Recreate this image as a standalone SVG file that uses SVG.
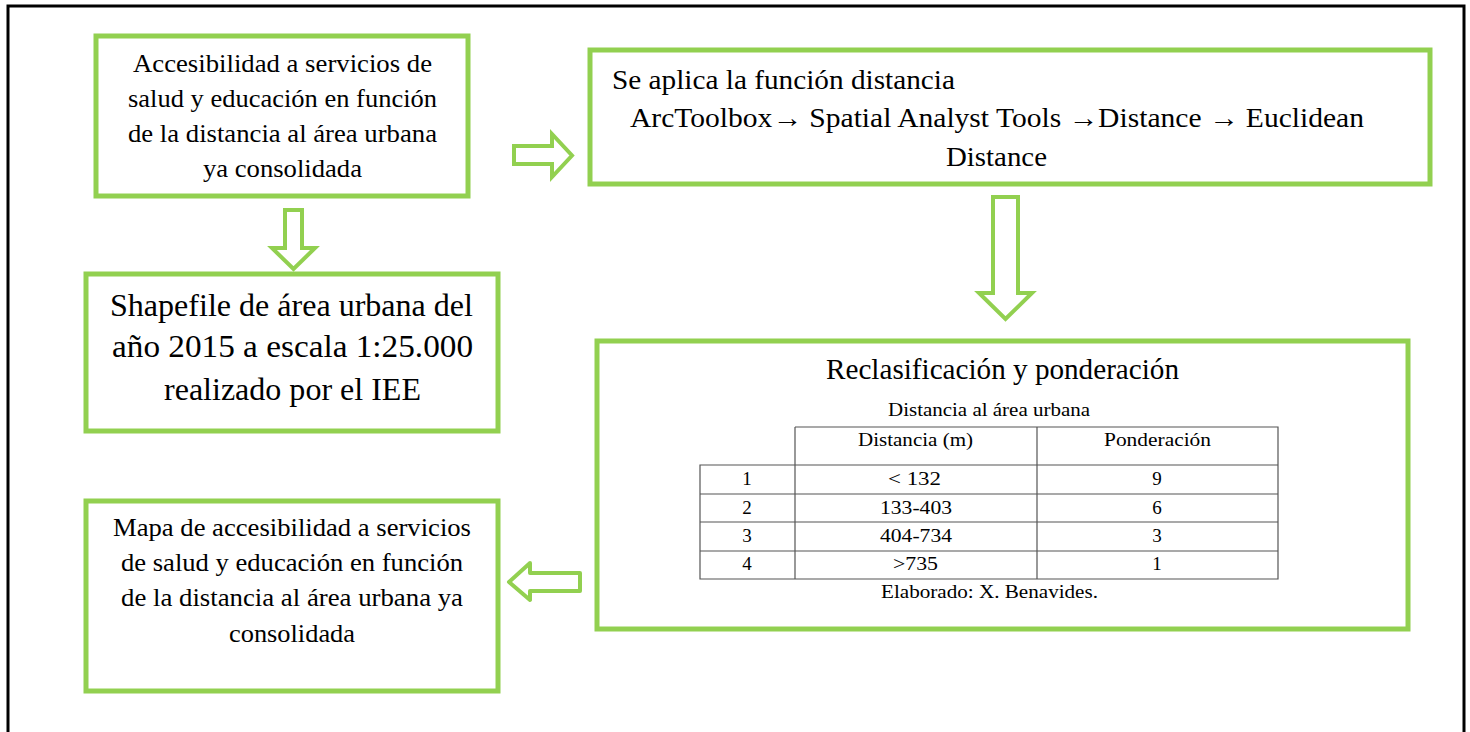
<svg xmlns="http://www.w3.org/2000/svg" width="1470" height="732" viewBox="0 0 1470 732">
<style>
.box{fill:#fff;stroke:#92D050;stroke-width:5}
.arr{fill:#fff;stroke:#92D050;stroke-width:4;stroke-linejoin:miter}
.grid{stroke:#555;stroke-width:1.2;fill:none}
text{font-family:"Liberation Serif","DejaVu Serif",serif;fill:#000}
</style>
<rect width="1470" height="732" fill="#fff"/>
<path d="M8,732 V6 H1464 V732" fill="none" stroke="#000" stroke-width="3"/>
<g id="connectors">
<polygon class="arr" points="514,146 552,146 552,134 572,155.5 552,177 552,164 514,164"/>
<polygon class="arr" points="285,210 302,210 302,248 315,248 293.5,269 272,248 285,248"/>
<polygon class="arr" points="993,197 1018,197 1018,293 1032,293 1005.5,319 979,293 993,293"/>
<polygon class="arr" style="stroke-linejoin:round" points="580,573 530,573 530,563 509,582 530,600 530,591 580,591"/>
</g>
<g id="n1" font-family="Liberation Serif, DejaVu Serif, serif" text-anchor="middle" font-size="26">
<rect class="box" x="96" y="36" width="372" height="160"/>
<text x="282.5" y="72" textLength="299" lengthAdjust="spacingAndGlyphs">Accesibilidad a servicios de</text>
<text x="282.5" y="107" textLength="309" lengthAdjust="spacingAndGlyphs">salud y educación en función</text>
<text x="282.5" y="142" textLength="309" lengthAdjust="spacingAndGlyphs">de la distancia al área urbana</text>
<text x="282.5" y="177" textLength="159" lengthAdjust="spacingAndGlyphs">ya consolidada</text>
</g>
<g id="n2" font-family="Liberation Serif, DejaVu Serif, serif" font-size="27">
<rect class="box" x="590" y="50" width="840" height="134"/>
<text x="612" y="89" textLength="343" lengthAdjust="spacingAndGlyphs">Se aplica la función distancia</text>
<text x="997" y="127" text-anchor="middle" textLength="734" lengthAdjust="spacingAndGlyphs">ArcToolbox→ Spatial Analyst Tools →Distance → Euclidean</text>
<text x="996.5" y="166" text-anchor="middle" textLength="101" lengthAdjust="spacingAndGlyphs">Distance</text>
</g>
<g id="n3" font-family="Liberation Serif, DejaVu Serif, serif" text-anchor="middle" font-size="32">
<rect class="box" x="86" y="274" width="412" height="157"/>
<text x="291.5" y="316" textLength="363" lengthAdjust="spacingAndGlyphs">Shapefile de área urbana del</text>
<text x="292.5" y="357" textLength="361" lengthAdjust="spacingAndGlyphs">año 2015 a escala 1:25.000</text>
<text x="292.5" y="400" textLength="257" lengthAdjust="spacingAndGlyphs">realizado por el IEE</text>
</g>
<g id="n4" font-family="Liberation Serif, DejaVu Serif, serif" text-anchor="middle">
<rect class="box" x="597" y="341" width="811" height="288"/>
<text x="1002.5" y="379" font-size="29" textLength="353" lengthAdjust="spacingAndGlyphs">Reclasificación y ponderación</text>
<text x="989" y="416" font-size="19" textLength="202" lengthAdjust="spacingAndGlyphs">Distancia al área urbana</text>
<path class="grid" d="M795,427 H1278 V579 H700 V465 H1278 M700,494 H1278 M700,522 H1278 M700,551 H1278 M795,427 V579 M1037,427 V579"/>
<g font-size="19">
<text x="915.5" y="446" textLength="115" lengthAdjust="spacingAndGlyphs">Distancia (m)</text>
<text x="1157.5" y="446" textLength="107" lengthAdjust="spacingAndGlyphs">Ponderación</text>
<text x="747" y="485">1</text><text x="914.5" y="485" textLength="53" lengthAdjust="spacingAndGlyphs">&lt; 132</text><text x="1157" y="485">9</text>
<text x="747" y="514">2</text><text x="916" y="514" textLength="72" lengthAdjust="spacingAndGlyphs">133-403</text><text x="1157" y="514">6</text>
<text x="747" y="542">3</text><text x="916" y="542" textLength="72" lengthAdjust="spacingAndGlyphs">404-734</text><text x="1157" y="542">3</text>
<text x="747" y="570">4</text><text x="915.5" y="570" textLength="45" lengthAdjust="spacingAndGlyphs">&gt;735</text><text x="1157" y="570">1</text>
<text x="989.5" y="598" textLength="217" lengthAdjust="spacingAndGlyphs">Elaborado: X. Benavides.</text>
</g>
</g>
<g id="n5" font-family="Liberation Serif, DejaVu Serif, serif" text-anchor="middle" font-size="26">
<rect class="box" x="86" y="501" width="412" height="190"/>
<text x="292" y="536" textLength="358" lengthAdjust="spacingAndGlyphs">Mapa de accesibilidad a servicios</text>
<text x="292" y="571" textLength="342" lengthAdjust="spacingAndGlyphs">de salud y educación en función</text>
<text x="292" y="606" textLength="342" lengthAdjust="spacingAndGlyphs">de la distancia al área urbana ya</text>
<text x="292" y="642" textLength="126" lengthAdjust="spacingAndGlyphs">consolidada</text>
</g>
</svg>
